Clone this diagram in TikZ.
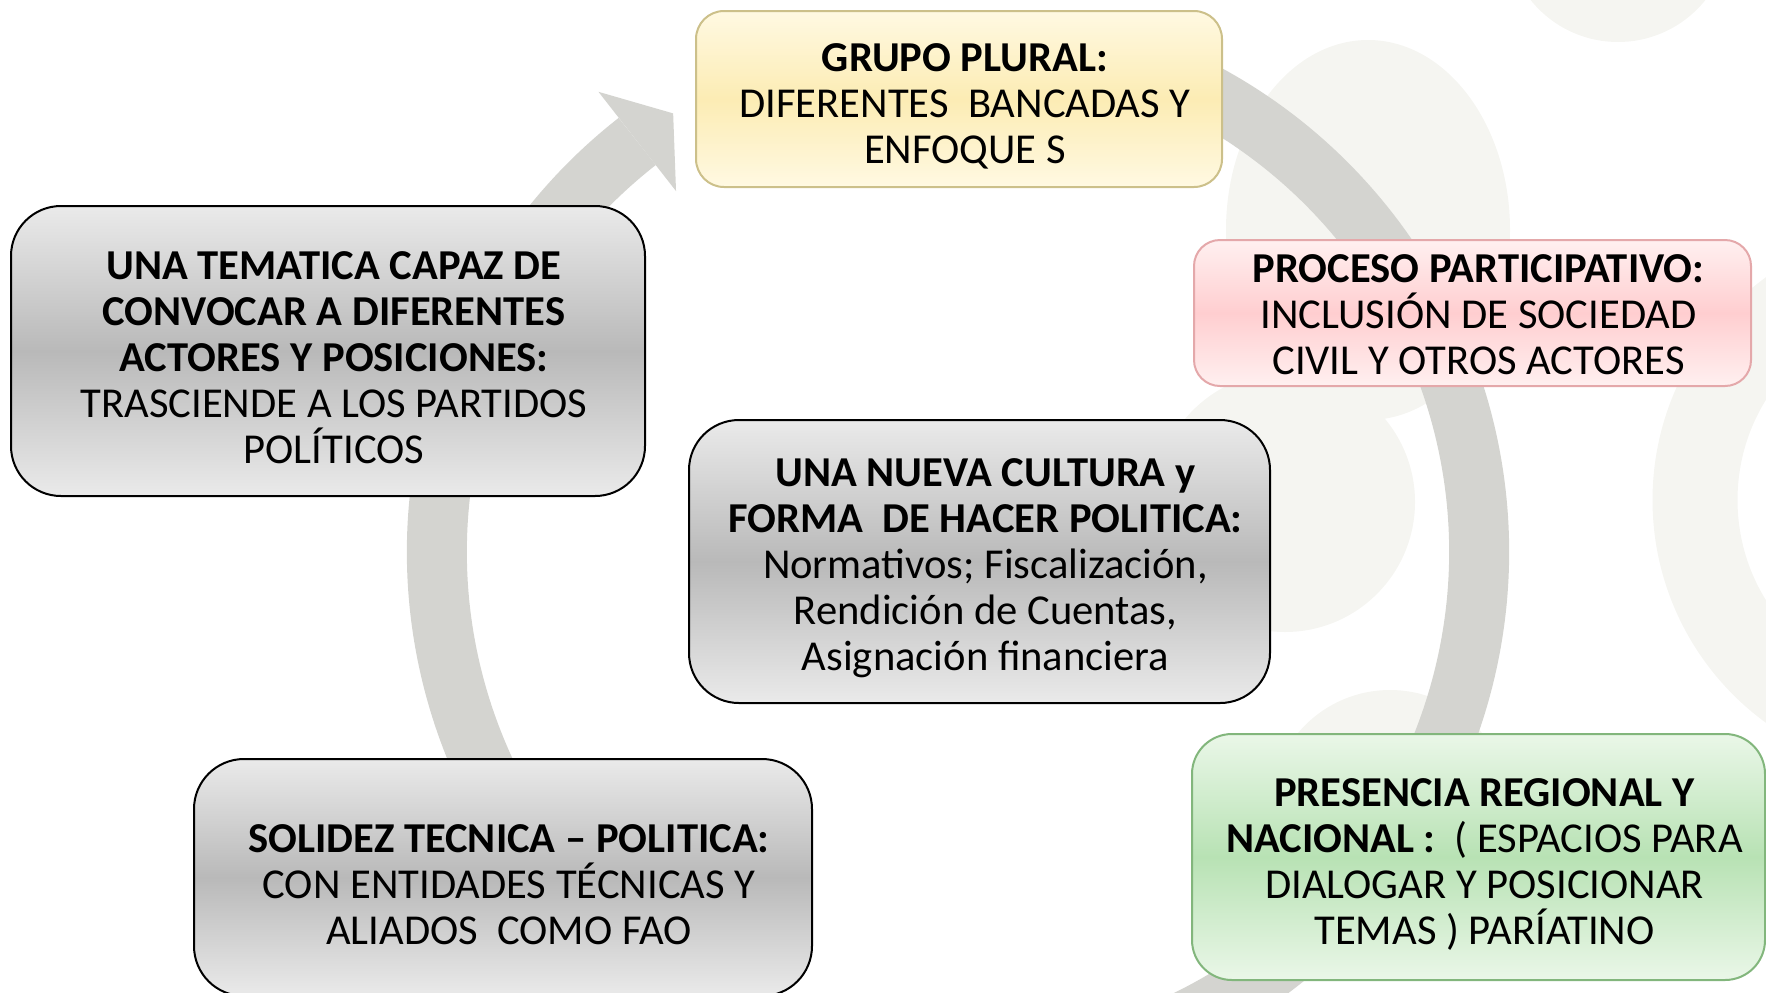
\documentclass[tikz,border=0pt]{standalone}
\usepackage{fontspec}
\setmainfont{Carlito}
\usepackage{tikz}
\usetikzlibrary{shapes, shadings, arrows.meta}

\definecolor{ringgray}{RGB}{212,212,208}
\definecolor{bgcirc}{RGB}{245,245,241}
\definecolor{greylight}{RGB}{234,234,234}
\definecolor{greydark}{RGB}{185,185,185}
\definecolor{yellowlight}{RGB}{255,249,226}
\definecolor{yellowdark}{RGB}{252,236,180}
\definecolor{yellowline}{RGB}{204,192,138}
\definecolor{pinklight}{RGB}{255,240,240}
\definecolor{pinkdark}{RGB}{255,206,208}
\definecolor{pinkline}{RGB}{228,168,170}
\definecolor{greenlight}{RGB}{234,247,232}
\definecolor{greendark}{RGB}{184,226,180}
\definecolor{greenline}{RGB}{130,182,124}

% strut that pushes the text block a little down in its box
\newcommand{\lead}[1][21pt]{\rule{0pt}{#1}}

\begin{document}
\begin{tikzpicture}[x=0.5pt, y=0.5pt,
    txt/.style={align=center, inner sep=0pt, font=\fontsize{21.3}{23}\selectfont,
        execute at begin node={\kern6pt}},
    greybox/.style={txt, rounded corners=25pt, draw=black, line width=1pt,
        top color=greylight, bottom color=greylight, middle color=greydark},
    yellowbox/.style={txt, rounded corners=14pt, draw=yellowline, line width=1pt,
        top color=yellowlight, bottom color=yellowlight, middle color=yellowdark},
    pinkbox/.style={txt, rounded corners=13pt, draw=pinkline, line width=1pt,
        top color=pinklight, bottom color=pinklight, middle color=pinkdark},
    greenbox/.style={txt, rounded corners=20pt, draw=greenline, line width=1pt,
        top color=greenlight, bottom color=greenlight, middle color=greendark}]
\useasboundingbox (0,0) rectangle (1766,-992);
\clip (0,0) rectangle (1766,-992);

%background circles
\fill[bgcirc] (1618,70) circle (112);
\fill[bgcirc] (1368,-230) ellipse (142 and 190);
\fill[bgcirc] (1285,-502) circle (130);
\fill[bgcirc] (1390,-810) circle (120);
\draw[bgcirc, line width=42.5pt] (1928,-500) circle (233);

%circular arrow
\coordinate (ctr) at (958,-552);
\draw[ringgray, line width=30pt] ([shift={(72:521)}]ctr) arc[start angle=72, end angle=-232, radius=521];
\fill[ringgray] ([shift={(128:584)}]ctr) -- ([shift={(123:523)}]ctr) -- ([shift={(128:458)}]ctr) -- cycle;

\begin{scope}
    \node[yellowbox, minimum width=263pt, minimum height=88pt] (grupo) at (959,-99)
        {\lead\textbf{GRUPO PLURAL:}\\DIFERENTES\ \ BANCADAS Y\\ENFOQUE S};
    \node[greybox, minimum width=317pt, minimum height=145pt] (tematica) at (328,-351)
        {\lead\textbf{UNA TEMATICA CAPAZ DE}\\\textbf{CONVOCAR A DIFERENTES}\\\textbf{ACTORES Y POSICIONES:}\\TRASCIENDE A LOS PARTIDOS\\POLÍTICOS};
    \node[pinkbox, minimum width=278.5pt, minimum height=73pt] (proceso) at (1472.5,-313)
        {\lead[16pt]\textbf{PROCESO PARTICIPATIVO:}\\INCLUSIÓN DE SOCIEDAD\\CIVIL Y OTROS ACTORES};
    \node[greybox, minimum width=290.5pt, minimum height=141.5pt] (cultura) at (979.5,-561.5)
        {\lead\textbf{UNA NUEVA CULTURA y}\\\textbf{FORMA\ \ DE HACER POLITICA:}\\Normativos; Fiscalización,\\Rendición de Cuentas,\\Asignación financiera};
    \node[greybox, minimum width=309pt, minimum height=118.5pt] (solidez) at (503,-877.5)
        {\lead\textbf{SOLIDEZ TECNICA – POLITICA:}\\CON ENTIDADES TÉCNICAS Y\\ALIADOS\ \ COMO FAO};
    \node[greenbox, minimum width=286.5pt, minimum height=123pt] (presencia) at (1478.5,-857)
        {\lead\textbf{PRESENCIA REGIONAL Y}\\\textbf{NACIONAL :}\ \ ( ESPACIOS PARA\\DIALOGAR Y POSICIONAR\\TEMAS ) PARÍATINO};
\end{scope}
\end{tikzpicture}
\end{document}
